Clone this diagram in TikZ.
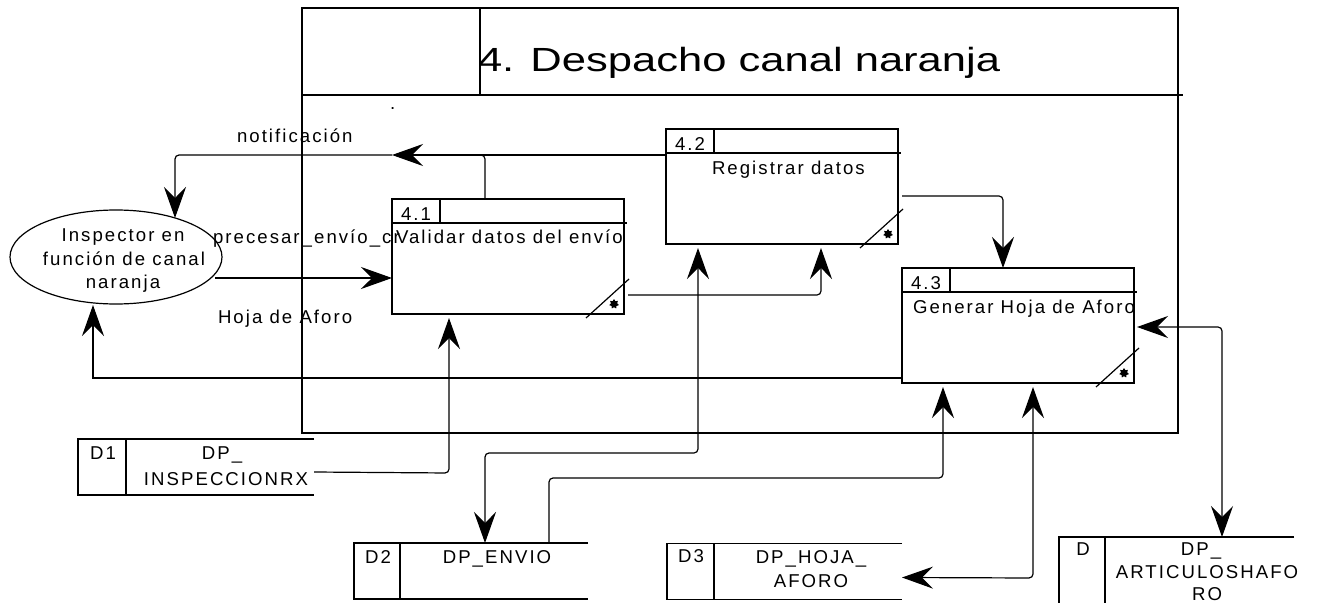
\documentclass[tikz,border=0pt]{standalone}
\usepackage{fontspec}
\setmainfont{Liberation Sans}
\newfontfamily\dfdfont{Liberation Sans}[LetterSpace=11]
\newfontfamily\titlefont{Liberation Sans}[FakeStretch=1.3]
\usetikzlibrary{arrows.meta,shapes.geometric,calc}

\tikzset{
  dfdtip/.tip={Stealth[length=31pt,width=22pt,inset=11pt]},
}

\begin{document}
\begin{tikzpicture}[x=1pt,y=-1pt,
  every node/.style={inner sep=0pt, outer sep=0pt},
  lbl/.style={font=\dfdfont\fontsize{18.6}{22}\selectfont, anchor=base west},
  clbl/.style={font=\dfdfont\fontsize{18.6}{22}\selectfont, anchor=base},
  wire/.style={line width=1.2pt},
  roundbend/.style={rounded corners=4pt},
  flow/.style={wire, -dfdtip},
  biflow/.style={wire, dfdtip-dfdtip},
  procbox/.style={draw, line width=1.2pt, minimum width=232pt, minimum height=115pt},
  storebox/.style={minimum height=56pt},
  corner/.style={star, star points=7, star point ratio=1.6, fill, minimum size=10pt},
]
\clip (0,0) rectangle (1319,602);

% process frame with its title band
\node[draw, line width=1.3pt, minimum width=876pt, minimum height=425pt] (frame) at (740,220.5) {};
\draw[wire] ($(frame.north west)+(0,87)$) -- ($(frame.north east)+(5,87)$);
\draw[wire] ($(frame.north west)+(178,0)$) -- ($(frame.north west)+(178,87)$);
\node[font=\titlefont\fontsize{33.5}{40}\selectfont, anchor=base west] (title) at (478,71) {4. Despacho canal naranja};
\node[lbl] (dot) at (390,109) {.};

% external entity
\node[draw, ellipse, line width=1.2pt, minimum width=212pt, minimum height=94pt] (e1) at (116,257) {};
\node[clbl] (e1a) at (123,241) {Inspector en};
\node[clbl] (e1b) at (124,265) {función de canal};
\node[clbl] (e1c) at (123,288) {naranja};

% processes
\node[procbox] (p41) at (508,256.5) {};
\node[procbox] (p42) at (782,186.5) {};
\node[procbox] (p43) at (1018,325.5) {};
\foreach \p/\n in {p41/4.1, p42/4.2, p43/4.3} {
  \draw[wire] ($(\p.north west)+(0,24)$) -- ($(\p.north east)+(3,24)$);
  \draw[wire] ($(\p.north west)+(48,0)$) -- ($(\p.north west)+(48,24)$);
  \draw[wire] ($(\p.south east)+(-38,4)$) -- ($(\p.south east)+(5,-35)$);
  \node[corner] (\p star) at ($(\p.south east)+(-10,-10)$) {};
  \node[lbl] (\p id) at ($(\p.north west)+(9,21.5)$) {\n};
}
\node[lbl] (t41) at ($(p41.north west)+(4,44)$) {Validar datos del envío};
\node[lbl] (t42) at ($(p42.north west)+(46,45)$) {Registrar datos};
\node[lbl] (t43) at ($(p43.north west)+(11,45)$) {Generar Hoja de Aforo};

% data stores (open on the right)
\node[storebox, minimum width=236pt] (s1) at (196,467) {};
\node[storebox, minimum width=234pt] (s2) at (471,571) {};
\node[storebox, minimum width=235pt] (s3) at (784.5,571.5) {};
\node[storebox, minimum width=235pt, minimum height=80pt] (s4) at (1176.5,577) {};
\foreach \s/\d in {s1/48, s2/46, s3/47, s4/46} {
  \draw[wire] (\s.north east) -- (\s.north west) -- (\s.south west) -- (\s.south east);
  \draw[wire] ($(\s.north west)+(\d,0)$) -- ($(\s.south west)+(\d,0)$);
}
\node[clbl] (s1id) at ($(s1.north west)+(25,20)$) {D1};
\node[clbl] (s1a) at (222,459) {DP\_};
\node[clbl] (s1b) at (226,485) {INSPECCIONRX};
\node[clbl] (s2id) at ($(s2.north west)+(24,20)$) {D2};
\node[clbl] (s2a) at (497,563) {DP\_ENVIO};
\node[clbl] (s3id) at ($(s3.north west)+(24,19)$) {D3};
\node[clbl] (s3a) at (811,563) {DP\_HOJA\_};
\node[clbl] (s3b) at (811,587) {AFORO};
\node[clbl] (s4id) at ($(s4.north west)+(24,18)$) {D};
\node[clbl] (s4a) at (1201,555) {DP\_};
\node[clbl] (s4b) at (1207,578) {ARTICULOSHAFO};
\node[clbl] (s4c) at (1207,600) {RO};

% flow labels
\node[lbl] (lnot) at (237,142) {notificación};
\node[lbl] (lpre) at (213,243) {precesar\_envío\_cr};
\node[lbl] (lhoja) at (218,323) {Hoja de Aforo};

% data flows
\coordinate (nmid) at ($(p41.north west)+(0,-44)$);
\coordinate (ncorner) at ($(e1.center)+(59,-102)$);
\draw[flow] ($(e1.east)+(-7,21)$) -- ($(p41.north west)+(0,79)$);
\draw[flow] ($(p42.north west)+(0,26)$) -- (nmid);
\draw[flow, roundbend] (nmid) -- (ncorner) -- ($(e1.center)+(59,-39)$);
\draw[wire, roundbend] ($(p41.north west)+(93,0)$) -- ($(p41.north west)+(93,-44)$) -- ($(p41.north west)+(78,-44)$);
\draw[flow, roundbend] ($(p41.south east)+(4,-19)$) -- ($(p41.south east)+(197,-19)$) -- ($(p42.south west)+(155,4)$);
\draw[flow, roundbend] ($(p42.north east)+(4,67)$) -- ($(p43.north west)+(101,-72)$) -- ($(p43.north west)+(101,0)$);
\draw[flow] ($(p43.south west)+(0,-5)$) -- ($(e1.center)+(-23,121)$) -- ($(e1.center)+(-23,48)$);
\draw[flow, roundbend] ($(s1.north east)+(0,33)$) -- ($(p41.south west)+(57,159)$) -- ($(p41.south west)+(57,4)$);
\draw[biflow, roundbend] ($(s2.north west)+(131,0)$) -- ($(s2.north west)+(131,-90)$) -- ($(p42.south west)+(32,209)$) -- ($(p42.south west)+(32,4)$);
\draw[flow, roundbend] ($(s2.north west)+(195,0)$) -- ($(s2.north west)+(195,-65)$) -- ($(p43.south west)+(41,95)$) -- ($(p43.south west)+(41,4)$);
\draw[biflow, roundbend] ($(p43.south west)+(131,4)$) -- ($(p43.south west)+(131,195)$) -- ($(s3.north east)+(0,34)$);
\draw[biflow, roundbend] ($(p43.north east)+(3,59)$) -- ($(p43.north east)+(88,59)$) -- ($(s4.north west)+(163,0)$);
\end{tikzpicture}
\end{document}
